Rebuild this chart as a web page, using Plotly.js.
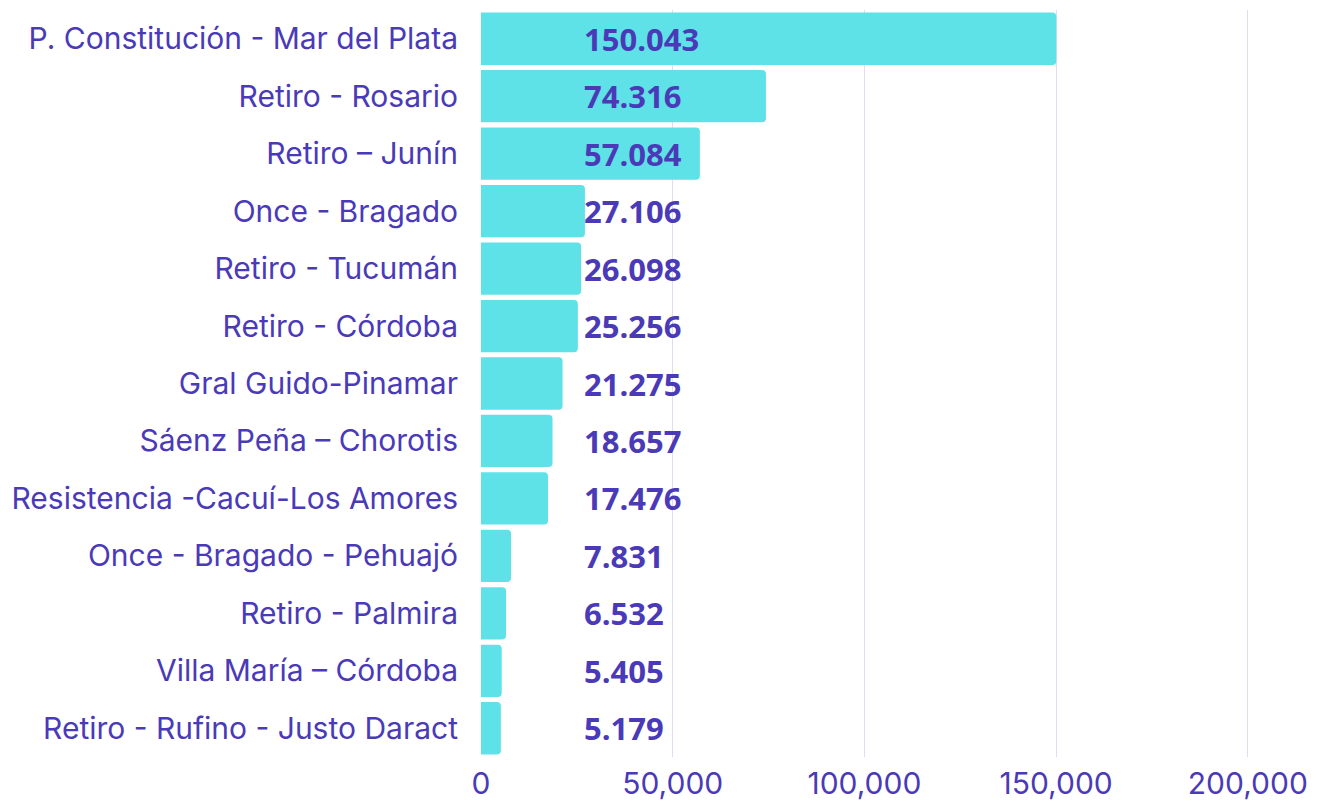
<!DOCTYPE html>
<html>
<head>
<meta charset="utf-8">
<script src="https://cdn.plot.ly/plotly-3.0.1.min.js"></script>
<style>html,body{margin:0;padding:0;background:#fff;}#chart{width:1327px;height:805px;}</style>
</head>
<body>
<div id="chart"></div>
<script>
const categories = [
  "P. Constitución - Mar del Plata",
  "Retiro - Rosario",
  "Retiro – Junín",
  "Once - Bragado",
  "Retiro - Tucumán",
  "Retiro - Córdoba",
  "Gral Guido-Pinamar",
  "Sáenz Peña – Chorotis",
  "Resistencia -Cacuí-Los Amores",
  "Once - Bragado - Pehuajó",
  "Retiro - Palmira",
  "Villa María – Córdoba",
  "Retiro - Rufino - Justo Daract"
];
const values = [150043, 74316, 57084, 27106, 26098, 25256, 21275, 18657, 17476, 7831, 6532, 5405, 5179];
const valueLabels = ["150.043","74.316","57.084","27.106","26.098","25.256","21.275","18.657","17.476","7.831","6.532","5.405","5.179"];
const tickValues = [0, 50000, 100000, 150000, 200000];
const tickLabels = ["0", "50,000", "100,000", "150,000", "200,000"];

const purple = "#4a3ab8";
const labelX = 26300;

const annotations = categories.map((c, i) => ({
  x: labelX, y: c, xref: "x", yref: "y",
  text: valueLabels[i], showarrow: false,
  xanchor: "left", yanchor: "middle", yshift: 0,
  font: {family: "Open Sans", size: 31, color: purple, weight: 700}
}));

const trace = {
  type: "bar", orientation: "h",
  x: values, y: categories,
  marker: {color: "#5ee2e7", cornerradius: 4},
  hoverinfo: "x+y"
};

const layout = {
  width: 1327, height: 805,
  margin: {l: 481, r: 60, t: 10, b: 48},
  paper_bgcolor: "#fff", plot_bgcolor: "#fff",
  showlegend: false,
  bargap: 0.09,
  xaxis: {
    range: [0, 205000],
    tickvals: tickValues, ticktext: tickLabels,
    showgrid: true, gridcolor: "#e0dcf2", gridwidth: 1,
    zeroline: false, showline: false,
    tickfont: {family: "Inter", size: 30, color: purple},
    ticks: "", ticklabelstandoff: 6
  },
  yaxis: {
    autorange: "reversed",
    showgrid: false, zeroline: false, showline: false,
    tickfont: {family: "Inter", size: 30, color: purple},
    ticks: "", ticklabelstandoff: 22
  },
  annotations: annotations
};

Plotly.newPlot("chart", [trace], layout, {displayModeBar: false, staticPlot: true});
</script>
</body>
</html>
